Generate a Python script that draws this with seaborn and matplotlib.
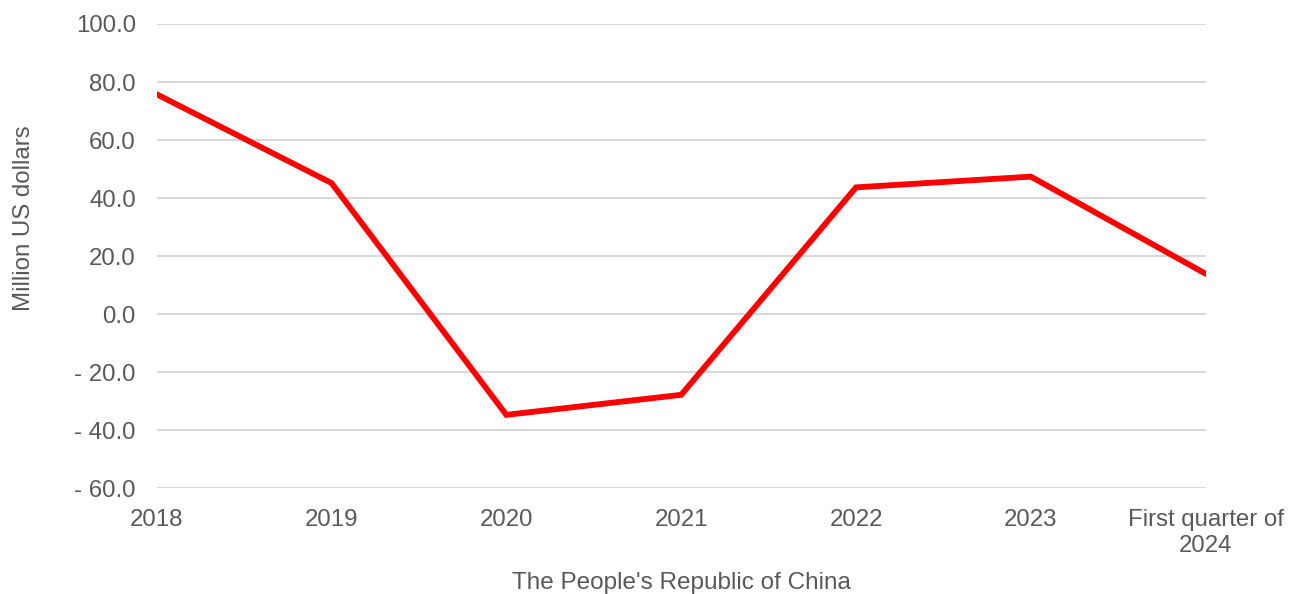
import matplotlib
matplotlib.use("Agg")
import matplotlib.pyplot as plt
from matplotlib.ticker import FuncFormatter, MultipleLocator
import seaborn as sns
import pandas as pd

# Annual values (million US dollars)
periods = ["2018", "2019", "2020", "2021", "2022", "2023", "First quarter of\n2024"]
values = [75.8, 45.2, -34.7, -27.8, 43.7, 47.4, 13.9]

sns.set_theme(style="white")
plt.rcParams["font.family"] = ["Liberation Sans", "DejaVu Sans"]

TEXT = "#595959"
GRID = "#d9d9d9"

df = pd.DataFrame({"period": periods, "value": values})

fig = plt.figure(figsize=(13, 5.94), dpi=100)
ax = fig.add_axes([0.1205, 0.178, 0.807, 0.7816])

sns.lineplot(data=df, x="period", y="value", sort=False, color="#ff0000",
             linewidth=4.2, ax=ax, solid_capstyle="round", solid_joinstyle="miter")

ax.set_xlim(0, len(periods) - 1)
ax.set_ylim(-60, 100)
ax.yaxis.set_major_locator(MultipleLocator(20))
ax.yaxis.set_major_formatter(
    FuncFormatter(lambda v, _: f"- {abs(v):.1f}" if v < 0 else f"{v:.1f}"))

ax.grid(axis="y", color=GRID, linewidth=1.5)
ax.grid(axis="x", visible=False)
ax.set_axisbelow(True)
for s in ax.spines.values():
    s.set_visible(False)

ax.tick_params(axis="y", length=0, pad=15, labelsize=17.3, labelcolor=TEXT)
ax.tick_params(axis="x", length=0, pad=15, labelsize=17.3, labelcolor=TEXT)
for lbl in ax.get_xticklabels():
    lbl.set_linespacing(1.25)

ax.set_ylabel("Million US dollars", fontsize=17.3, color=TEXT)
ax.set_xlabel("The People's Republic of China", fontsize=17.5, color=TEXT)
ax.yaxis.set_label_coords(-0.116, 0.582)
ax.xaxis.set_label_coords(0.5, -0.181)

fig.savefig("out.png", dpi=100, facecolor="white")
